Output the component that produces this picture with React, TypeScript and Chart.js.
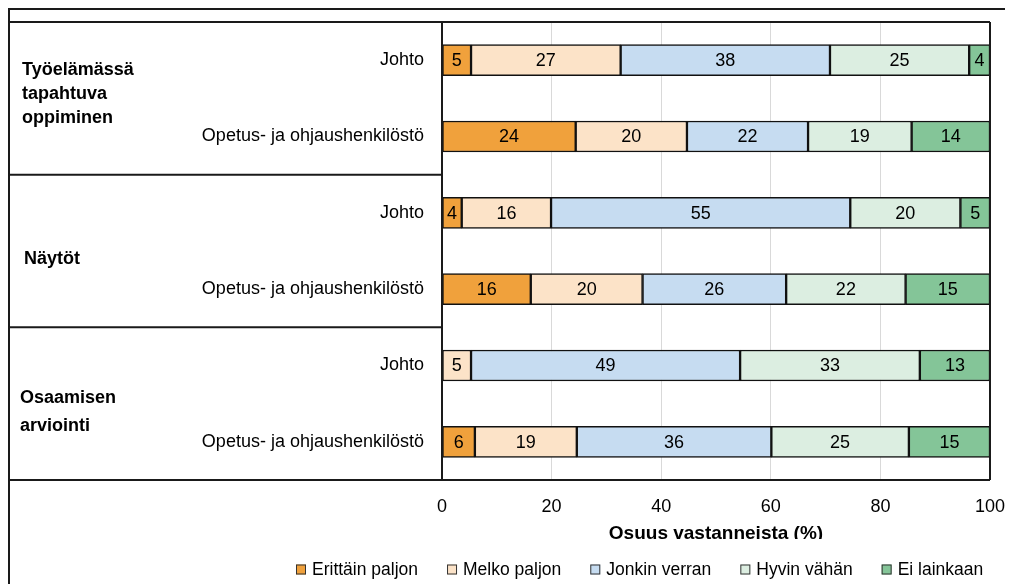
import React, { useEffect, useRef } from "react";
import { Chart, registerables } from "chart.js";

Chart.register(...registerables);

// ---- Data ----
const categories = [
  "Johto",
  "Opetus- ja ohjaushenkilöstö",
  "Johto",
  "Opetus- ja ohjaushenkilöstö",
  "Johto",
  "Opetus- ja ohjaushenkilöstö",
];
const groupLabels = [
  ["Työelämässä", "tapahtuva", "oppiminen"],
  ["Näytöt"],
  ["Osaamisen", "arviointi"],
];
const seriesNames = ["Erittäin paljon", "Melko paljon", "Jonkin verran", "Hyvin vähän", "Ei lainkaan"];
const erittainPaljon = [5.3, 24.4, 3.6, 16.2, 0, 6.0];
const melkoPaljon = [27.3, 20.3, 16.3, 20.4, 5.3, 18.6];
const jonkinVerran = [38.2, 22.1, 54.6, 26.2, 49.1, 35.5];
const hyvinVahan = [25.4, 18.9, 20.1, 21.8, 32.8, 25.1];
const eiLainkaan = [3.8, 14.3, 5.4, 15.4, 12.8, 14.8];
const xTickValues = [0, 20, 40, 60, 80, 100];
const xTitle = "Osuus vastanneista (%)";

// ---- Styles ----
const W = 1005;
const H = 576;
const FONT = "'Liberation Sans', Arial, sans-serif";
const colors = ["#F0A13C", "#FCE3C8", "#C6DCF1", "#DCEEE1", "#84C598"];
const LINE = "#1a1a1a";

const seriesData = [erittainPaljon, melkoPaljon, jonkinVerran, hyvinVahan, eiLainkaan];

const overlayPlugin = {
  id: "overlay",
  afterDatasetsDraw(chart: any) {
    const { ctx } = chart;
    ctx.save();
    ctx.font = `18px ${FONT}`;
    ctx.fillStyle = "#000";
    ctx.textAlign = "center";
    ctx.textBaseline = "middle";
    chart.data.datasets.forEach((ds: any, i: number) => {
      const meta = chart.getDatasetMeta(i);
      meta.data.forEach((bar: any, j: number) => {
        const v = ds.data[j];
        if (v < 0.5) return;
        const p = bar.getProps(["x", "base", "y"], true);
        ctx.fillText(String(Math.round(v)), (p.x + p.base) / 2, p.y + 1);
      });
    });
    ctx.restore();
  },
  afterDraw(chart: any) {
    const { ctx, chartArea: a } = chart;
    const y = chart.scales.y;
    ctx.save();
    // area under the axis title is blank (title is cut as in reference)
    ctx.fillStyle = "#fff";
    ctx.fillRect(0, 531, W, H - 531);

    ctx.strokeStyle = LINE;
    ctx.lineWidth = 2;
    const line = (x1: number, y1: number, x2: number, y2: number) => {
      ctx.beginPath();
      ctx.moveTo(x1, y1);
      ctx.lineTo(x2, y2);
      ctx.stroke();
    };
    line(0, 1, W, 1);
    line(1, 0, 1, H);
    line(0, a.top, a.right, a.top);
    line(0, a.bottom, a.right, a.bottom);
    line(a.left, a.top, a.left, a.bottom);
    line(a.right, a.top, a.right, a.bottom);
    const sep1 = (y.getPixelForValue(1) + y.getPixelForValue(2)) / 2;
    const sep2 = (y.getPixelForValue(3) + y.getPixelForValue(4)) / 2;
    line(0, sep1, a.left, sep1);
    line(0, sep2, a.left, sep2);

    // group labels
    ctx.fillStyle = "#000";
    ctx.font = `bold 18px ${FONT}`;
    ctx.textAlign = "left";
    ctx.textBaseline = "middle";
    const groupPos = [
      { x: 14, ys: [62, 86, 110] },
      { x: 16, ys: [251] },
      { x: 12, ys: [390, 418] },
    ];
    groupLabels.forEach((lines, g) => {
      lines.forEach((t, k) => ctx.fillText(t, groupPos[g].x, groupPos[g].ys[k]));
    });

    // legend
    ctx.font = `17.5px ${FONT}`;
    let lx = 288;
    const ly = 561.5;
    seriesNames.forEach((name, i) => {
      ctx.fillStyle = colors[i];
      ctx.fillRect(lx, ly - 5, 10, 10);
      ctx.strokeStyle = "#333";
      ctx.lineWidth = 1;
      ctx.strokeRect(lx + 0.5, ly - 4.5, 9, 9);
      ctx.fillStyle = "#000";
      ctx.fillText(name, lx + 16, ly + 1);
      lx += 16 + ctx.measureText(name).width + 29;
    });
    ctx.restore();
  },
};

export default function App() {
  const ref = useRef<HTMLCanvasElement>(null);
  useEffect(() => {
    document.documentElement.style.overflow = "hidden";
    const chart = new Chart(ref.current as HTMLCanvasElement, {
      type: "bar",
      data: {
        labels: categories,
        datasets: seriesData.map((d, i) => ({
          label: seriesNames[i],
          data: d,
          backgroundColor: colors[i],
          borderColor: "#111",
          borderWidth: 1.5,
          borderSkipped: false,
          barThickness: 31,
        })),
      },
      options: {
        indexAxis: "y",
        responsive: false,
        animation: false,
        devicePixelRatio: 1,
        layout: { padding: { left: 0, top: 14, right: 23, bottom: 39 } },
        plugins: {
          legend: { display: false },
          tooltip: { enabled: false },
          title: { display: false },
        },
        scales: {
          x: {
            stacked: true,
            min: 0,
            max: 100,
            afterBuildTicks: (s: any) => {
              s.ticks = xTickValues.map((v) => ({ value: v }));
            },
            afterFit: (s: any) => {
              s.height = 65;
              s.paddingLeft = 0;
              s.paddingRight = 0;
            },
            grid: { color: "#d9d9d9", lineWidth: 1, drawTicks: false },
            border: { display: false },
            ticks: {
              font: { family: FONT, size: 18 },
              color: "#000",
              padding: 16,
              maxRotation: 0,
            },
            title: {
              display: true,
              text: xTitle,
              font: { family: FONT, size: 19, weight: "bold" },
              color: "#000",
              padding: { top: 0, bottom: 0 },
            },
          },
          y: {
            stacked: true,
            afterFit: (s: any) => {
              s.width = 434;
              s.paddingTop = 0;
              s.paddingBottom = 0;
            },
            grid: { display: false, drawTicks: false },
            border: { display: false },
            ticks: {
              font: { family: FONT, size: 18 },
              color: "#000",
              padding: 18,
            },
          },
        },
      },
      plugins: [overlayPlugin],
    } as any);
    return () => chart.destroy();
  }, []);
  return (
    <div style={{ width: W, height: H }}>
      <canvas ref={ref} width={W} height={H} style={{ display: "block", width: W, height: H }} />
    </div>
  );
}
